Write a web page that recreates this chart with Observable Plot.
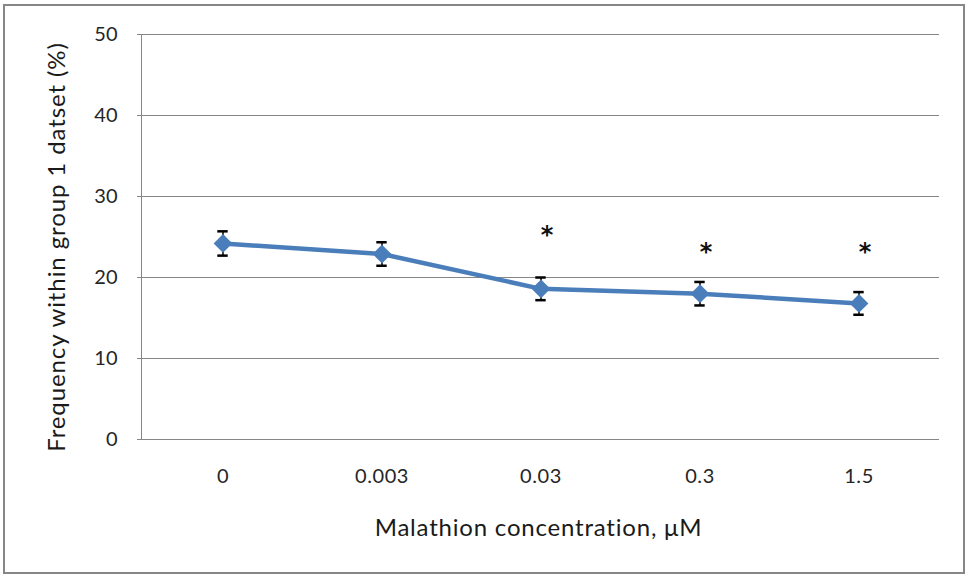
<!DOCTYPE html>
<html>
<head>
<meta charset="utf-8">
<script src="https://cdn.jsdelivr.net/npm/d3@7"></script>
<script src="https://cdn.jsdelivr.net/npm/@observablehq/plot@0.6"></script>
<style>
  html, body { margin: 0; padding: 0; background: #fff; }
  #wrap { position: relative; width: 969px; height: 577px; }
  #border { position: absolute; left: 3px; top: 4px; width: 958px; height: 566px; border: 2px solid #868686; box-sizing: content-box; pointer-events: none; }
  #chart { position: absolute; left: 0; top: 0; }
  .ylab text { letter-spacing: 0.9px; }
  .xlab text { letter-spacing: 0.8px; }
  .xticks text { letter-spacing: 0.6px; }
</style>
</head>
<body>
<div id="wrap"><div id="chart"></div><div id="border"></div></div>
<script>
const concentrations = ["0", "0.003", "0.03", "0.3", "1.5"];
const frequency = [24.2, 22.9, 18.6, 18.0, 16.8];
const errors = [1.5, 1.45, 1.4, 1.45, 1.4];
const starConcentrations = ["0.03", "0.3", "1.5"];
const starHeights = [25.6, 23.5, 23.5];
const yTicks = [0, 10, 20, 30, 40, 50];

const data = concentrations.map((c, i) => ({c, v: frequency[i], lo: frequency[i] - errors[i], hi: frequency[i] + errors[i]}));
const stars = starConcentrations.map((c, i) => ({c, v: starHeights[i]}));

const W = 969, H = 577, mL = 141, mR = 30, mT = 34, mB = 138;
const bw = (W - mL - mR) / concentrations.length;
const capInset = (bw - 11) / 2;
const font = "Lato, 'Open Sans', sans-serif";
const grey = "#868686";
const blue = "#4a7ebb";

const chart = Plot.plot({
  width: W, height: H,
  marginLeft: mL, marginRight: mR, marginTop: mT, marginBottom: mB,
  style: {fontFamily: font, background: "transparent"},
  x: {type: "band", domain: concentrations, padding: 0},
  y: {domain: [0, 50]},
  marks: [
    Plot.gridY(yTicks, {stroke: grey, strokeOpacity: 1, strokeWidth: 1}),
    Plot.axisY(yTicks, {tickSize: 4, tickPadding: 20, stroke: grey, fontSize: 20, fill: "#262626", label: null}),
    Plot.frame({anchor: "left", stroke: grey, strokeWidth: 1}),
    Plot.axisX({tickSize: 0, tickPadding: 29, fontSize: 20, fill: "#262626", label: null, className: "xticks"}),
    Plot.line(data, {x: "c", y: "v", stroke: blue, strokeWidth: 4.5}),
    Plot.ruleX(data, {x: "c", y1: "lo", y2: "hi", stroke: "#000", strokeWidth: 1.5}),
    Plot.tickY(data, {x: "c", y: "lo", stroke: "#000", strokeWidth: 2.5, inset: capInset}),
    Plot.tickY(data, {x: "c", y: "hi", stroke: "#000", strokeWidth: 2.5, inset: capInset}),
    Plot.dot(data, {x: "c", y: "v", symbol: "diamond2", r: 7.5, fill: blue, stroke: blue}),
    Plot.text(stars, {x: "c", y: "v", text: () => "*", fontFamily: "'DejaVu Sans', sans-serif", fontWeight: "bold", fontSize: 24, fill: "#111", dx: 6, dy: 3}),
    Plot.text(["Frequency within group 1 datset (%)"], {frameAnchor: "left", textAnchor: "middle", lineAnchor: "middle", rotate: -90, dx: -84, dy: 10, fontSize: 24, fill: "#1a1a1a", className: "ylab"}),
    Plot.text(["Malathion concentration, \u03bcM"], {frameAnchor: "bottom", textAnchor: "middle", lineAnchor: "middle", dy: 89, dx: -2, fontSize: 24, fill: "#1a1a1a", className: "xlab"})
  ]
});
document.getElementById("chart").appendChild(chart);
</script>
</body>
</html>
